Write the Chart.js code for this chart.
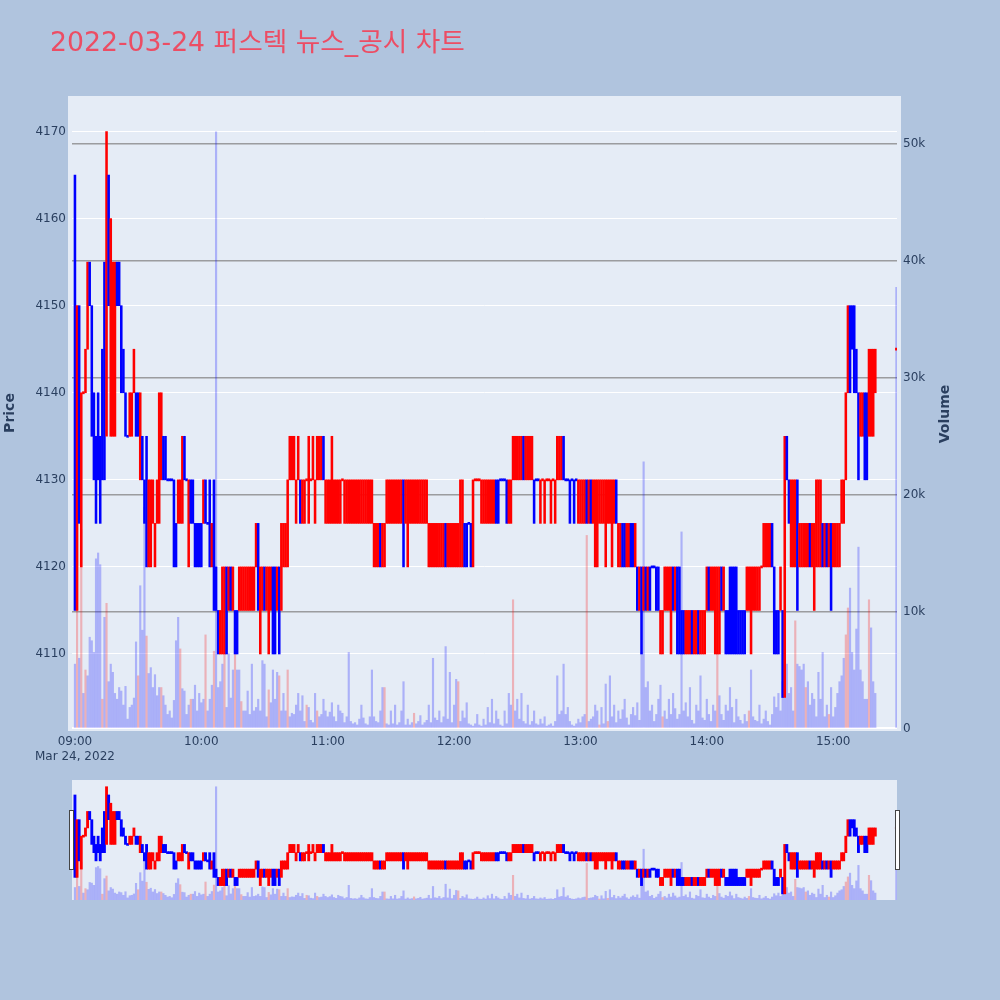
<!DOCTYPE html>
<html>
<head>
<meta charset="utf-8">
<script src="https://cdn.jsdelivr.net/npm/chart.js@4.4.1/dist/chart.umd.min.js"></script>
<style>
html,body{margin:0;padding:0;background:#B0C4DE;width:1000px;height:1000px;overflow:hidden;}
#main{position:absolute;left:0;top:0;}
#mini{position:absolute;left:0;top:780px;}
</style>
</head>
<body>
<canvas id="main" width="1000" height="770"></canvas>
<canvas id="mini" width="1000" height="120"></canvas>
<script>
// ---------- text ----------
const titleText = '2022-03-24 퍼스텍 뉴스_공시 차트';
const priceAxisTitle = 'Price';
const volumeAxisTitle = 'Volume';
const dateLabel = 'Mar 24, 2022';

// ---------- ticks ----------
const timeTicks = [0, 60, 120, 180, 240, 300, 360];           // minutes after 09:00
const timeTickLabels = ['09:00', '10:00', '11:00', '12:00', '13:00', '14:00', '15:00'];
const priceTicks = [4110, 4120, 4130, 4140, 4150, 4160, 4170];
const volumeTicks = [0, 10000, 20000, 30000, 40000, 50000];
const volumeTickLabels = ['0', '10k', '20k', '30k', '40k', '50k'];

// ---------- 1-minute candles, 09:00 .. 15:20 (index = minute after 09:00) ----------
const opens = [
4165,4115,4150,4120,4140,4140,4145,4155,4150,4140,
4135,4140,4135,4145,4155,4135,4165,4135,4135,4135,
4155,4155,4150,4145,4140,4135,4135,4135,4140,4140,
4140,4130,4135,4130,4135,4120,4120,4125,4120,4125,
4125,4130,4135,4135,4130,4130,4130,4130,4125,4125,
4125,4125,4135,4130,4120,4130,4130,4125,4125,4125,
4125,4125,4130,4125,4130,4120,4130,4120,4115,4110,
4110,4110,4120,4115,4120,4115,4115,4115,4115,4115,
4115,4115,4115,4115,4115,4115,4120,4125,4110,4115,
4120,4115,4110,4115,4120,4120,4115,4120,4115,4120,
4120,4120,4130,4130,4130,4125,4130,4130,4125,4125,
4130,4125,4130,4130,4125,4130,4130,4130,4135,4125,
4125,4125,4125,4125,4125,4125,4125,4130,4125,4125,
4125,4125,4125,4125,4125,4125,4125,4125,4125,4125,
4125,4125,4120,4120,4120,4125,4120,4120,4125,4125,
4125,4125,4125,4125,4125,4125,4130,4125,4120,4125,
4125,4125,4125,4125,4125,4125,4125,4125,4120,4120,
4120,4120,4120,4120,4120,4120,4125,4120,4120,4120,
4120,4120,4120,4120,4120,4125,4125,4125,4125,4120,
4130,4130,4130,4125,4125,4125,4125,4125,4125,4125,
4130,4130,4130,4130,4130,4130,4125,4125,4130,4130,
4130,4130,4130,4135,4130,4130,4130,4130,4130,4130,
4130,4125,4130,4125,4130,4130,4125,4130,4125,4130,
4130,4130,4135,4130,4130,4130,4130,4130,4130,4125,
4125,4125,4125,4130,4125,4130,4125,4120,4120,4125,
4125,4125,4120,4125,4125,4120,4125,4130,4120,4120,
4125,4125,4120,4120,4125,4125,4120,4120,4115,4120,
4115,4120,4115,4120,4120,4120,4120,4120,4110,4110,
4115,4115,4115,4110,4120,4115,4120,4120,4115,4115,
4110,4110,4110,4115,4110,4110,4115,4110,4110,4110,
4115,4120,4115,4115,4110,4110,4110,4120,4115,4115,
4115,4120,4120,4120,4120,4115,4115,4115,4115,4115,
4115,4110,4115,4115,4115,4115,4120,4120,4120,4120,
4120,4125,4120,4115,4115,4115,4115,4105,4135,4130,
4120,4120,4120,4130,4120,4120,4120,4120,4120,4125,
4120,4115,4120,4120,4120,4125,4120,4125,4120,4125,
4120,4120,4120,4120,4125,4125,4130,4140,4150,4150,
4150,4145,4140,4135,4135,4140,4140,4135,4135,4135,
4140
];
const closes = [
4115,4150,4125,4140,4140,4145,4155,4150,4135,4130,
4125,4130,4125,4130,4130,4170,4150,4160,4155,4155,
4150,4150,4140,4140,4135,4135,4140,4140,4145,4135,
4135,4140,4130,4125,4120,4130,4130,4130,4125,4130,
4140,4140,4130,4130,4130,4130,4130,4120,4120,4130,
4130,4135,4130,4130,4130,4125,4125,4120,4120,4120,
4120,4130,4125,4125,4120,4125,4115,4115,4110,4115,
4120,4120,4110,4120,4115,4120,4110,4110,4120,4120,
4120,4120,4120,4120,4120,4120,4125,4115,4120,4120,
4115,4120,4120,4120,4110,4110,4120,4110,4125,4125,
4125,4130,4135,4135,4135,4130,4135,4125,4130,4130,
4130,4135,4130,4135,4130,4135,4135,4135,4130,4130,
4130,4130,4135,4130,4130,4130,4130,4130,4130,4130,
4130,4130,4130,4130,4130,4130,4130,4130,4130,4130,
4130,4130,4125,4125,4125,4120,4125,4125,4130,4130,
4130,4130,4130,4130,4130,4130,4120,4130,4130,4130,
4130,4130,4130,4130,4130,4130,4130,4130,4125,4125,
4125,4125,4125,4125,4125,4125,4120,4125,4125,4125,
4125,4125,4125,4130,4130,4120,4120,4125,4120,4130,
4130,4130,4130,4130,4130,4130,4130,4130,4130,4130,
4125,4125,4130,4130,4130,4125,4130,4130,4135,4135,
4135,4135,4135,4130,4135,4135,4135,4135,4125,4130,
4130,4130,4130,4130,4130,4130,4130,4130,4130,4135,
4135,4135,4130,4130,4130,4125,4130,4125,4130,4130,
4130,4130,4130,4125,4130,4125,4130,4130,4130,4130,
4130,4130,4130,4130,4130,4130,4130,4125,4125,4125,
4120,4120,4125,4125,4120,4120,4125,4115,4120,4110,
4120,4115,4120,4115,4120,4120,4115,4115,4115,4115,
4120,4120,4120,4120,4115,4120,4110,4110,4110,4110,
4115,4115,4115,4110,4115,4115,4110,4115,4115,4115,
4120,4115,4120,4120,4120,4120,4120,4115,4120,4110,
4110,4110,4110,4110,4110,4110,4110,4110,4110,4120,
4120,4120,4120,4120,4120,4120,4120,4125,4125,4125,
4125,4120,4110,4110,4110,4120,4105,4135,4130,4125,
4130,4130,4130,4115,4125,4125,4125,4125,4125,4120,
4125,4125,4130,4130,4130,4120,4125,4120,4125,4115,
4125,4125,4125,4125,4130,4130,4140,4150,4140,4145,
4140,4140,4130,4140,4140,4130,4130,4145,4145,4145,
4145
];
const volumes = [
5500,19000,6000,17000,3000,5000,4500,7800,7500,6500,
14500,15000,14000,2500,9500,10700,4000,5500,4800,3000,
2500,3500,3200,2000,3600,800,1800,2000,2600,7400,
4500,12200,8400,18900,7900,4700,5200,3500,4600,2800,
3500,3500,2800,2000,1200,1500,900,2400,7500,9500,
6800,3400,3200,1200,2000,2500,2500,3700,1500,3000,
2200,2500,8000,1500,2500,3700,6600,51000,3500,4000,
5500,8000,1800,6400,2600,5000,8600,5000,5000,2300,
1500,1500,3200,1200,5500,1500,1800,2500,1500,5800,
5500,1000,3300,2200,5000,2500,4800,4500,1500,3000,
1500,5000,1000,1300,1200,2000,3000,1500,2800,600,
2000,1800,700,500,3000,1500,1000,1200,2500,1500,
1000,1400,2200,1000,600,2000,1500,1300,500,1000,
6500,600,400,500,300,800,2000,900,400,300,
1000,5000,1000,600,500,1500,3500,3500,400,300,
1500,400,2000,300,500,1500,4000,300,800,300,
500,1300,400,600,1100,300,500,700,2000,500,
6000,900,700,1500,500,1000,7000,800,4800,500,
2000,4200,4000,600,1500,900,2200,400,300,200,
400,1200,300,200,800,300,1800,500,2500,400,
1500,800,300,200,1500,400,3000,2000,11000,1500,
2500,800,3000,600,400,2000,300,600,1500,400,
300,800,400,1000,200,300,400,200,600,4500,
1200,1500,5500,1200,1800,600,300,200,400,800,
500,1000,1200,16500,600,800,1000,2000,1500,300,
1800,400,3800,600,4500,1000,2000,500,1500,800,
1600,2500,900,300,1200,1800,1100,2200,700,6500,
22800,3500,4000,1500,2000,600,1200,2500,3700,1000,
1500,800,2500,1200,3000,1700,800,1200,16800,1500,
2200,1000,3500,700,400,2000,1500,4500,900,700,
2500,1200,600,2000,1500,6500,2800,1200,700,2000,
1500,3500,1800,500,2500,1000,700,400,1200,600,
1500,5000,1000,700,600,2000,400,800,1500,600,
300,1200,2700,1800,3000,1500,4000,9000,5500,3000,
3500,1500,9200,5500,5300,5000,5500,3500,4000,2000,
3000,2500,1000,4800,2500,6500,1000,2000,1200,3500,
1000,1800,3000,4000,4500,6000,8000,10300,12000,6500,
5000,8500,15500,5000,4000,2500,2500,11000,8600,4000,
3000
];
// minutes whose volume bar is drawn in the light red colour (all others light blue)
const redVolumeMinutes = [1,3,5,13,15,30,34,41,50,55,62,66,71,76,79,92,97,101,
  110,115,147,161,182,208,243,249,253,279,305,320,342,347,358,366,367,377];

// ---------- closing auction, 15:30 ----------
const auctionMinute = 390;
const auctionOpen = 4145;
const auctionClose = 4145;
const auctionVolume = 37700;

// ---------- build library data ----------
const mins = opens.map((_, i) => i).concat([auctionMinute]);
const O = opens.concat([auctionOpen]);
const C = closes.concat([auctionClose]);
const V = volumes.concat([auctionVolume]);
const dirs = [];
for (let i = 0; i < O.length; i++) {
  if (C[i] > O[i]) dirs.push(1);
  else if (C[i] < O[i]) dirs.push(-1);
  else dirs.push(i > 0 ? dirs[i - 1] : 1);
}
const UP = 'rgb(255,0,0)', DOWN = 'rgb(0,0,255)';
const UPV = 'rgba(255,0,0,0.25)', DOWNV = 'rgba(0,0,255,0.25)';
function candles(flat) {
  return mins.map((m, i) => ({x: m, y: O[i] === C[i] ? [O[i] - flat, O[i] + flat] : [O[i], C[i]]}));
}
const candleColors = dirs.map(d => d > 0 ? UP : DOWN);
const volData = mins.map((m, i) => ({x: m, y: V[i]}));
const volColors = mins.map(m => redVolumeMinutes.includes(m) ? UPV : DOWNV);

const FONT = '"DejaVu Sans", "Noto Sans CJK KR", sans-serif';
const TXT = '#2a3f5f';
const X_MIN = -1.4, X_MAX = 390.3;
const P_MIN = 4101.27, P_MAX = 4174.08;
const V_MIN = -130, V_MAX = 54060;

function fmtTime(v) {
  const i = timeTicks.indexOf(v);
  return i >= 0 ? timeTickLabels[i] : '';
}

const mainDecor = {
  id: 'mainDecor',
  beforeDraw(chart) {
    const ctx = chart.ctx;
    ctx.save();
    ctx.fillStyle = '#E5ECF6';
    ctx.fillRect(68, 96, 833, 635);
    ctx.restore();
  },
  afterDraw(chart) {
    const ctx = chart.ctx;
    ctx.save();
    ctx.fillStyle = '#EC4D64';
    ctx.font = '26.7px ' + FONT;
    ctx.textBaseline = 'alphabetic';
    ctx.textAlign = 'left';
    ctx.fillText(titleText, 50, 50.5);
    ctx.fillStyle = TXT;
    ctx.font = 'bold 14px ' + FONT;
    ctx.textAlign = 'center';
    ctx.textBaseline = 'middle';
    ctx.translate(10, 413);
    ctx.rotate(-Math.PI / 2);
    ctx.fillText(priceAxisTitle, 0, 0);
    ctx.restore();
    ctx.save();
    ctx.fillStyle = TXT;
    ctx.font = 'bold 14px ' + FONT;
    ctx.textAlign = 'center';
    ctx.textBaseline = 'middle';
    ctx.translate(945.5, 414);
    ctx.rotate(-Math.PI / 2);
    ctx.fillText(volumeAxisTitle, 0, 0);
    ctx.restore();
  }
};

new Chart(document.getElementById('main'), {
  type: 'bar',
  data: {
    datasets: [
      {label: 'price', data: candles(0.12), yAxisID: 'y', xAxisID: 'x',
       backgroundColor: candleColors, borderWidth: 0, barThickness: 1.9, grouped: false, order: 0},
      {label: 'volume', data: volData, yAxisID: 'yv', xAxisID: 'x',
       backgroundColor: volColors, borderWidth: 0, barThickness: 1.5, grouped: false, order: 1}
    ]
  },
  options: {
    responsive: false, animation: false, devicePixelRatio: 1,
    layout: {padding: {top: 96, left: 0, right: 0, bottom: 0}},
    plugins: {legend: {display: false}, tooltip: {enabled: false}, title: {display: false}},
    scales: {
      x: {
        type: 'linear', min: X_MIN, max: X_MAX, offset: false,
        grid: {display: false, drawTicks: false}, border: {display: false},
        afterBuildTicks: s => { s.ticks = timeTicks.map(v => ({value: v})); },
        afterFit: s => { s.height = 40; },
        ticks: {autoSkip: false, maxRotation: 0, minRotation: 0, color: TXT, padding: 5,
                font: {family: FONT, size: 12},
                callback: v => v === timeTicks[0] ? [fmtTime(v), dateLabel] : fmtTime(v)}
      },
      y: {
        type: 'linear', position: 'left', min: P_MIN, max: P_MAX,
        grid: {color: '#ffffff', lineWidth: 1, drawTicks: false}, border: {display: false},
        afterBuildTicks: s => { s.ticks = priceTicks.map(v => ({value: v})); },
        afterFit: s => { s.width = 72; },
        ticks: {color: TXT, padding: 6, font: {family: FONT, size: 12}, callback: v => String(v)}
      },
      yv: {
        type: 'linear', position: 'right', min: V_MIN, max: V_MAX,
        grid: {color: c => (c.tick && c.tick.value === 0) ? '#ffffff' : 'rgba(130,130,130,0.75)',
               lineWidth: c => (c.tick && c.tick.value === 0) ? 2 : 1.5, drawTicks: false},
        border: {display: false},
        afterBuildTicks: s => { s.ticks = volumeTicks.map(v => ({value: v})); },
        afterFit: s => { s.width = 103; },
        ticks: {color: TXT, padding: 6, font: {family: FONT, size: 12},
                callback: v => { const i = volumeTicks.indexOf(v); return i >= 0 ? volumeTickLabels[i] : ''; }}
      }
    }
  },
  plugins: [mainDecor]
});

const miniDecor = {
  id: 'miniDecor',
  beforeDraw(chart) {
    const a = chart.chartArea, ctx = chart.ctx;
    ctx.save();
    ctx.fillStyle = '#E5ECF6';
    ctx.fillRect(a.left, a.top, a.right - a.left, a.bottom - a.top);
    ctx.restore();
  },
  afterDraw(chart) {
    const a = chart.chartArea, ctx = chart.ctx;
    ctx.save();
    ctx.fillStyle = '#ffffff';
    ctx.strokeStyle = '#444444';
    ctx.lineWidth = 1;
    [a.left - 2.5, a.right - 1.5].forEach(x => {
      ctx.fillRect(x, 30, 4, 60);
      ctx.strokeRect(x, 30.5, 4, 59);
    });
    ctx.restore();
  }
};

new Chart(document.getElementById('mini'), {
  type: 'bar',
  data: {
    datasets: [
      {label: 'price', data: candles(0.6), yAxisID: 'y', xAxisID: 'x',
       backgroundColor: candleColors, borderWidth: 0, barThickness: 2.2, grouped: false, order: 0},
      {label: 'volume', data: volData, yAxisID: 'yv', xAxisID: 'x',
       backgroundColor: volColors, borderWidth: 0, barThickness: 1.5, grouped: false, order: 1}
    ]
  },
  options: {
    responsive: false, animation: false, devicePixelRatio: 1,
    layout: {padding: {left: 72, right: 103, top: 0, bottom: 0}},
    plugins: {legend: {display: false}, tooltip: {enabled: false}},
    scales: {
      x: {type: 'linear', min: X_MIN, max: X_MAX, offset: false, display: false},
      y: {type: 'linear', min: P_MIN, max: P_MAX, display: false},
      yv: {type: 'linear', position: 'right', min: V_MIN, max: V_MAX, display: false}
    }
  },
  plugins: [miniDecor]
});
</script>
</body>
</html>
